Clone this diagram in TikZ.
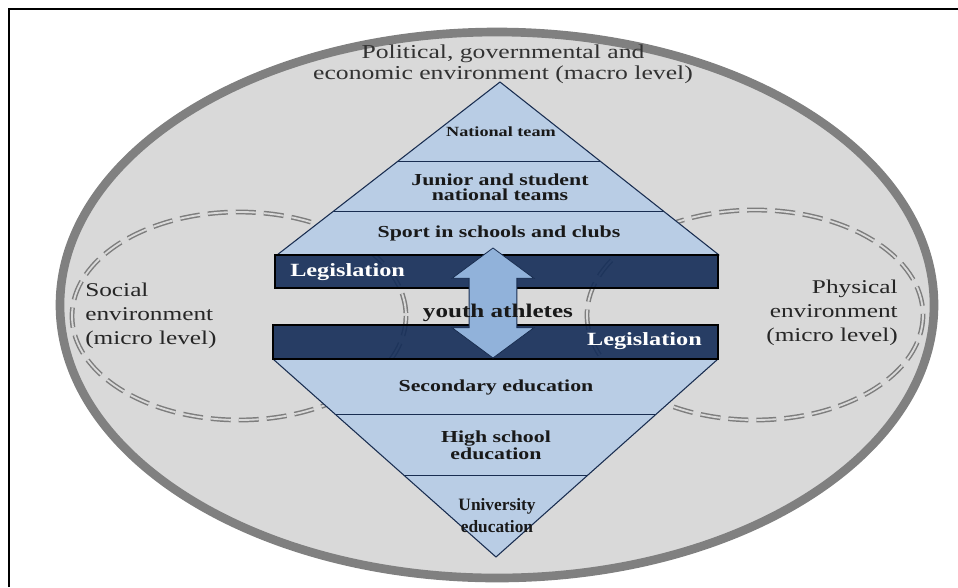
\documentclass[tikz,border=0pt]{standalone}
\usepackage{fontspec}
\setmainfont{Liberation Serif}[FakeStretch=1.3]
\newfontfamily\narrowserif{Liberation Serif}
\usetikzlibrary{calc,shapes.arrows}
\definecolor{ringG}{RGB}{128,128,128}
\definecolor{envG}{RGB}{217,217,217}
\definecolor{dashG}{RGB}{125,125,125}
\definecolor{layerB}{RGB}{185,205,229}
\definecolor{edgeN}{RGB}{25,45,80}
\definecolor{lawN}{RGB}{20,45,88}
\definecolor{arrowB}{RGB}{145,178,218}
\definecolor{headG}{RGB}{50,50,50}

\begin{document}
\begin{tikzpicture}[x=0.75pt, y=-0.75pt,
  env/.style={draw=dashG, line width=1.1pt, double=envG, double distance=1.4pt, dash pattern=on 15pt off 6pt},
  layer/.style={fill=layerB, draw=edgeN, line width=0.8pt, line join=round},
  law/.style={fill=lawN, fill opacity=0.9, draw=black, line width=0.9pt},
  lbl/.style={font=\bfseries\fontsize{12.6}{11.5}\selectfont, text=black!90, align=center, inner sep=0pt},
  lawtxt/.style={font=\bfseries\fontsize{14}{16}\selectfont, text=white, inner sep=0pt},
  side/.style={font=\fontsize{14.6}{18}\selectfont, text=black!85, inner sep=0pt}]
  \useasboundingbox (0,0) rectangle (958,587);
  \draw[line width=2pt] (9,587) -- (9,9) -- (958,9);

  % macro level
  \draw[ringG, fill=envG, line width=6.5pt] (497,305) ellipse [x radius=437, y radius=273];
  % micro level
  \draw[env] (239,316) ellipse [x radius=167, y radius=104];
  \draw[env] (755,315) ellipse [x radius=168, y radius=105];

  % sport pyramid
  \coordinate (apex) at (500,82);
  \coordinate (bl) at (277,255);
  \coordinate (br) at (719,255);
  \draw[layer] (apex) -- (bl) -- (br) -- cycle;
  \draw[layer] ($(apex)!.457!(bl)$) -- ($(apex)!.457!(br)$);
  \draw[layer] ($(apex)!.751!(bl)$) -- ($(apex)!.751!(br)$);
  % education pyramid
  \coordinate (tl) at (273,359);
  \coordinate (tr) at (718,359);
  \coordinate (tip) at (496,557);
  \draw[layer] (tl) -- (tr) -- (tip) -- cycle;
  \draw[layer] ($(tip)!.722!(tl)$) -- ($(tip)!.722!(tr)$);
  \draw[layer] ($(tip)!.414!(tl)$) -- ($(tip)!.414!(tr)$);

  \draw[law] (275,255) rectangle (718,288);
  \draw[law] (273,325) rectangle (718,359);

  \node[double arrow, shape border rotate=90, fill=arrowB, draw=edgeN, line width=0.6pt,
    minimum height=82.5pt, minimum width=60.75pt, inner xsep=17.6pt, inner ysep=0pt,
    double arrow head extend=12.75pt, double arrow tip angle=107] (link) at (493,303) {};

  \node[font=\fontsize{14.8}{15.75}\selectfont, text=headG, align=center, inner sep=0pt] (macro) at (503,64)
    {Political, governmental and\\economic environment (macro level)};
  \node[side, align=left, anchor=west] (social) at (85,316) {Social\\environment\\(micro level)};
  \node[side, align=right, anchor=east] (physical) at (898,313) {Physical\\environment\\(micro level)};

  \node[lbl, font=\bfseries\fontsize{10.5}{12}\selectfont] (nat) at (501,132) {National team};
  \node[lbl] (junior) at (500,187) {Junior and student\\national teams};
  \node[lbl] (club) at (499,233) {Sport in schools and clubs};
  \node[lawtxt, anchor=west] (law1) at (290,272) {Legislation};
  \node[lbl, font=\bfseries\fontsize{14.5}{16}\selectfont] (youth) at (498,313) {youth athletes};
  \node[lawtxt, anchor=east] (law2) at (702,341) {Legislation};
  \node[lbl] (sec) at (496,387) {Secondary education};
  \node[lbl, font=\bfseries\fontsize{12.6}{11}\selectfont] (high) at (496,445) {High school\\education};
  \node[lbl, font=\narrowserif\bfseries\fontsize{13}{16.5}\selectfont] (uni) at (497,516) {University\\education};
\end{tikzpicture}
\end{document}
